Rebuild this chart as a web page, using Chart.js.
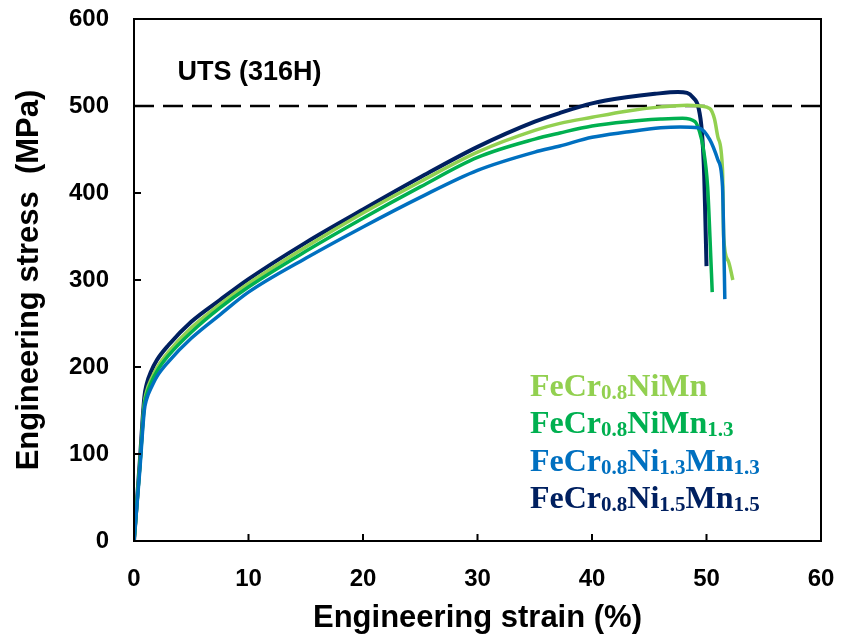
<!DOCTYPE html>
<html>
<head>
<meta charset="utf-8">
<title>Engineering stress-strain</title>
<script src="https://cdn.jsdelivr.net/npm/chart.js@4.4.1/dist/chart.umd.min.js"></script>
<style>
  html, body { margin: 0; padding: 0; background: #ffffff; }
  #wrap { width: 842px; height: 643px; position: relative; }
</style>
</head>
<body>
<div id="wrap"><canvas id="ssChart"></canvas></div>
<script>
/* ==============================
   DATA  (strain %, stress MPa)
============================== */
var strainNiMn = [0, 0.5, 0.9, 1.1, 1.5, 2, 3, 5, 7.5, 10, 15, 20, 25, 30, 35, 37.2, 40, 43, 46, 48.3, 49.5, 50.3, 50.7, 51.0, 51.4, 51.5, 51.9, 52.3];
var stressNiMn = [0, 85, 158, 172, 186, 199, 217, 245, 272, 296, 338, 377, 413, 447, 472, 480, 487, 494, 499, 501, 500, 497, 485, 464, 426, 349, 322, 300];

var strainNiMn13 = [0, 0.5, 0.9, 1.1, 1.5, 2, 3, 5, 7.5, 10, 15, 20, 25, 30, 35, 37.2, 40, 43, 46, 47.9, 49.0, 49.4, 49.7, 50.1, 50.3, 50.5];
var stressNiMn13 = [0, 84, 155, 168, 182, 195, 213, 240, 268, 292, 333, 371, 407, 441, 462, 469, 477, 482, 485, 486, 482, 470, 453, 407, 350, 286];

var strainNi13Mn13 = [0, 0.5, 0.9, 1.1, 1.5, 2, 3, 5, 7.5, 10, 15, 20, 25, 30, 35, 37.2, 40, 43, 46, 47.7, 49.3, 50.3, 51.0, 51.4, 51.5, 51.6];
var stressNi13Mn13 = [0, 80, 150, 163, 176, 189, 206, 233, 260, 286, 325, 361, 395, 426, 447, 454, 464, 470, 475, 476, 475, 461, 438, 407, 350, 278];

var strainNi15Mn15 = [0, 0.5, 0.9, 1.1, 1.5, 2, 3, 5, 7.5, 10, 15, 20, 25, 30, 35, 37.2, 40, 43, 45.5, 47.5, 48.3, 48.8, 49.3, 49.6, 49.8, 49.9, 50.0];
var stressNi15Mn15 = [0, 90, 165, 180, 195, 208, 225, 252, 277, 301, 343, 381, 418, 453, 482, 492, 503, 510, 514, 516, 515, 510, 498, 470, 420, 370, 316];

var utsStrain = [0, 60];
var utsStress = [500, 500];

var xTicks = [0, 10, 20, 30, 40, 50, 60];
var yTicks = [0, 100, 200, 300, 400, 500, 600];

// legend rows: [text, subscript] pieces
var legendRows = [
    [["FeCr", ""], ["0.8", "sub"], ["NiMn", ""]],
    [["FeCr", ""], ["0.8", "sub"], ["NiMn", ""], ["1.3", "sub"]],
    [["FeCr", ""], ["0.8", "sub"], ["Ni", ""], ["1.3", "sub"], ["Mn", ""], ["1.3", "sub"]],
    [["FeCr", ""], ["0.8", "sub"], ["Ni", ""], ["1.5", "sub"], ["Mn", ""], ["1.5", "sub"]]
];
var legendColors = ["#92D050", "#00B050", "#0070C0", "#002060"];

function toPoints(xs, ys) {
    return xs.map(function (x, i) { return { x: x, y: ys[i] }; });
}

/* ==============================
   PLUGINS
============================== */
// frame + inward tick marks
var framePlugin = {
    id: "frame",
    afterDraw: function (chart) {
        var ctx = chart.ctx;
        var a = chart.chartArea;
        var xs = chart.scales.x;
        var ys = chart.scales.y;
        ctx.save();
        ctx.strokeStyle = "#000";
        ctx.lineWidth = 2;
        ctx.strokeRect(a.left, a.top, a.right - a.left, a.bottom - a.top);
        ctx.beginPath();
        xTicks.forEach(function (v) {
            var px = xs.getPixelForValue(v);
            ctx.moveTo(px, a.bottom);
            ctx.lineTo(px, a.bottom - 7);
        });
        yTicks.forEach(function (v) {
            var py = ys.getPixelForValue(v);
            ctx.moveTo(a.left, py);
            ctx.lineTo(a.left + 7, py);
        });
        ctx.stroke();
        ctx.restore();
    }
};

// UTS label and alloy legend
var labelPlugin = {
    id: "labels",
    afterDraw: function (chart) {
        var ctx = chart.ctx;
        var xs = chart.scales.x;
        var ys = chart.scales.y;
        ctx.save();
        ctx.fillStyle = "#000";
        ctx.font = "bold 27px 'Liberation Sans', Arial, sans-serif";
        ctx.textBaseline = "middle";
        ctx.textAlign = "left";
        ctx.fillText("UTS (316H)", xs.getPixelForValue(3.8), ys.getPixelForValue(538));

        var baseX = 530;
        var baseY = [396, 433, 471, 508];
        ctx.textBaseline = "alphabetic";
        legendRows.forEach(function (row, r) {
            var x = baseX;
            ctx.fillStyle = legendColors[r];
            row.forEach(function (piece) {
                if (piece[1] === "sub") {
                    ctx.font = "bold 21px 'Liberation Serif', 'Times New Roman', serif";
                    ctx.fillText(piece[0], x, baseY[r] + 3);
                } else {
                    ctx.font = "bold 32px 'Liberation Serif', 'Times New Roman', serif";
                    ctx.fillText(piece[0], x, baseY[r]);
                }
                x += ctx.measureText(piece[0]).width;
            });
        });
        ctx.restore();
    }
};

/* ==============================
   CHART
============================== */
function curve(label, xs, ys, color, width) {
    return {
        label: label,
        data: toPoints(xs, ys),
        borderColor: color,
        backgroundColor: color,
        borderWidth: width,
        pointRadius: 0,
        fill: false,
        cubicInterpolationMode: "monotone"
    };
}

var tickFont = { family: "'Liberation Sans', Arial, sans-serif", size: 24, weight: "bold" };
var titleFont = { family: "'Liberation Sans', Arial, sans-serif", size: 31, weight: "bold" };

new Chart(document.getElementById("ssChart"), {
    type: "line",
    data: {
        datasets: [
            curve("FeCr0.8Ni1.3Mn1.3", strainNi13Mn13, stressNi13Mn13, "#0070C0", 3.5),
            curve("FeCr0.8NiMn1.3", strainNiMn13, stressNiMn13, "#00B050", 3.5),
            curve("FeCr0.8NiMn", strainNiMn, stressNiMn, "#92D050", 3.5),
            curve("FeCr0.8Ni1.5Mn1.5", strainNi15Mn15, stressNi15Mn15, "#002060", 4),
            {
                label: "UTS (316H)",
                data: toPoints(utsStrain, utsStress),
                borderColor: "#000",
                borderWidth: 2.5,
                borderDash: [20, 9],
                pointRadius: 0,
                fill: false
            }
        ]
    },
    options: {
        responsive: true,
        maintainAspectRatio: false,
        animation: false,
        layout: { padding: { top: 19, right: 21, left: 0, bottom: 0 } },
        plugins: {
            legend: { display: false },
            tooltip: { enabled: false }
        },
        scales: {
            x: {
                type: "linear",
                min: 0,
                max: 60,
                grid: { display: false, drawTicks: false },
                border: { display: false },
                ticks: { stepSize: 10, color: "#000", font: tickFont, padding: 24 },
                title: { display: true, text: "Engineering strain (%)", color: "#000", font: titleFont, padding: { top: 0, bottom: 6 } },
                afterFit: function (scale) {
                    scale.height = 102;
                    scale.paddingLeft = 0;
                    scale.paddingRight = 0;
                }
            },
            y: {
                type: "linear",
                min: 0,
                max: 600,
                grid: { display: false, drawTicks: false },
                border: { display: false },
                ticks: { stepSize: 100, color: "#000", font: tickFont, padding: 25 },
                title: { display: true, text: "Engineering stress  (MPa)", color: "#000", font: titleFont, padding: { top: 11, bottom: 0 } },
                afterFit: function (scale) {
                    scale.width = 134;
                    scale.paddingTop = 0;
                    scale.paddingBottom = 0;
                }
            }
        }
    },
    plugins: [framePlugin, labelPlugin]
});
</script>
</body>
</html>
